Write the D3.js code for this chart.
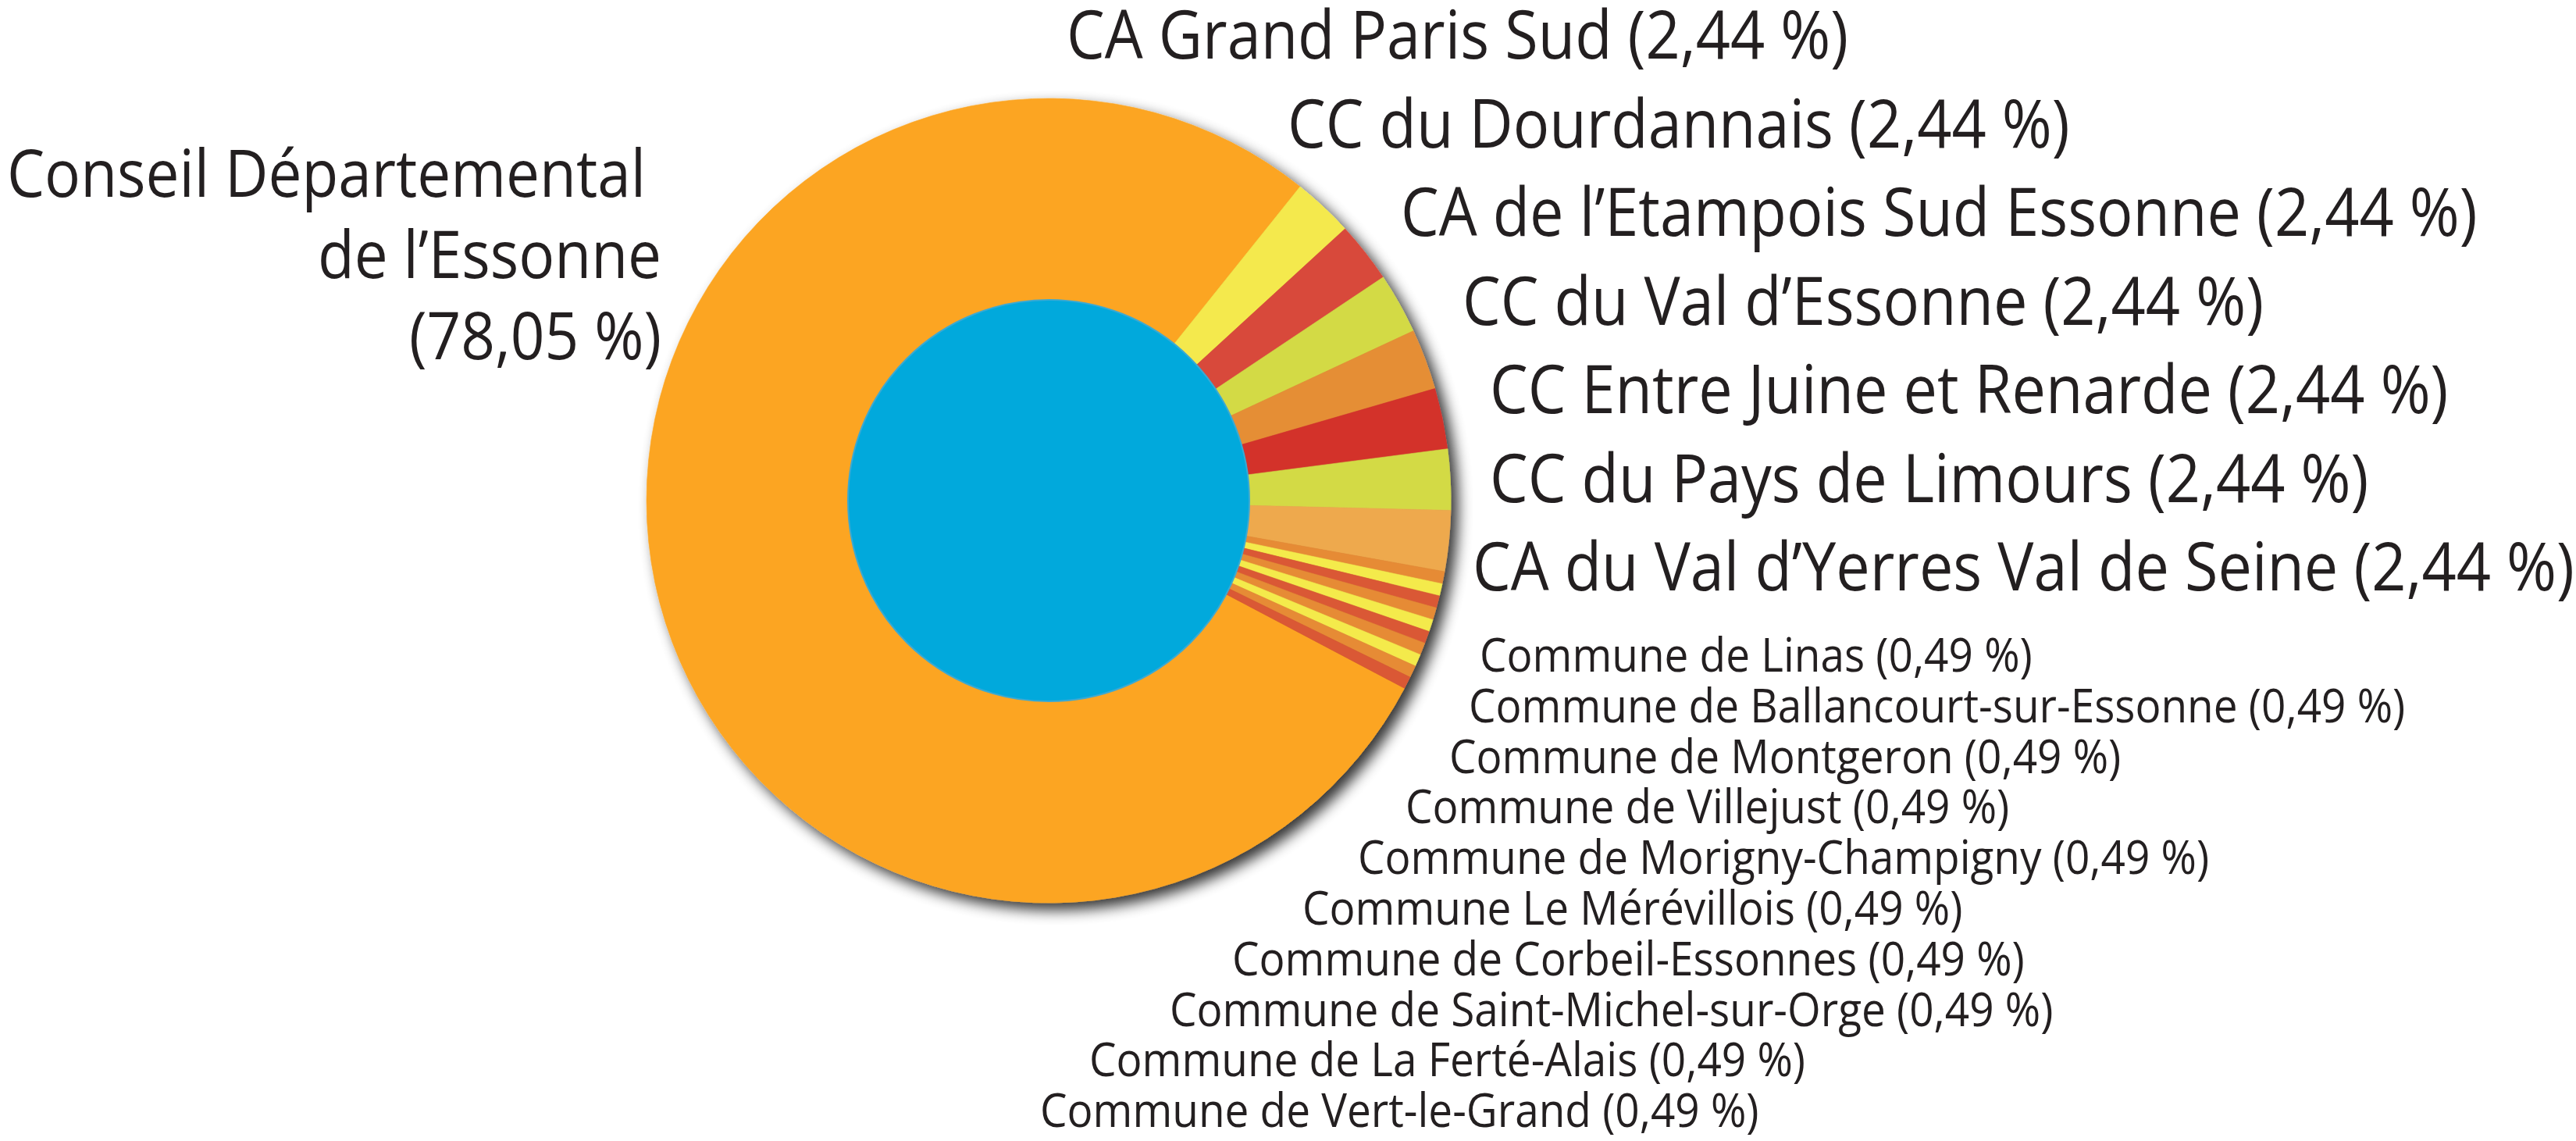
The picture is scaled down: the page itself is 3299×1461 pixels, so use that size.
<!DOCTYPE html>
<html>
<head>
<meta charset="utf-8">
<script src="https://cdn.jsdelivr.net/npm/d3@7"></script>
<style>
  html, body { margin: 0; padding: 0; background: #ffffff; }
  svg { display: block; }
  text { font-family: "Open Sans", "Noto Sans", sans-serif; fill: #231f20; }
</style>
</head>
<body>
<svg id="chart" width="3299" height="1461"></svg>
<script>
// ---------- DATA ----------
const categories = [
  "Conseil Départemental de l’Essonne",
  "CA Grand Paris Sud",
  "CC du Dourdannais",
  "CA de l’Etampois Sud Essonne",
  "CC du Val d’Essonne",
  "CC Entre Juine et Renarde",
  "CC du Pays de Limours",
  "CA du Val d’Yerres Val de Seine",
  "Commune de Linas",
  "Commune de Ballancourt-sur-Essonne",
  "Commune de Montgeron",
  "Commune de Villejust",
  "Commune de Morigny-Champigny",
  "Commune Le Mérévillois",
  "Commune de Corbeil-Essonnes",
  "Commune de Saint-Michel-sur-Orge",
  "Commune de La Ferté-Alais",
  "Commune de Vert-le-Grand"
];
const shares = [78.05, 2.44, 2.44, 2.44, 2.44, 2.44, 2.44, 2.44,
                0.49, 0.49, 0.49, 0.49, 0.49, 0.49, 0.49, 0.49, 0.49, 0.49];
// Left label broken into lines as in the original
const mainLabelLines = ["Conseil Départemental", "de l’Essonne"];

// ---------- STYLE ----------
const sliceColors = [
  "#fca522", "#f4e94d", "#d8493b", "#d3da45", "#e58e36", "#d3302c", "#d3da45", "#eea94d",
  "#e68b35", "#f4ea4c", "#da5934", "#e68b35", "#f4ea4c", "#da5934", "#e68b35", "#f4ea4c",
  "#e68b35", "#da5934"
];
const centerColor = "#01a9dc";

// ---------- LAYOUT ----------
const W = 3299, H = 1461;
const cx = 1343, cy = 641, R = 515, rCenter = 257;
const startDeg = 117.8;
const condense = 0.90;
const bigFont = 86, smallFont = 61, mainFont = 85;
// label anchors (left edge x) for right-hand labels, rows top→bottom
const bigRowX = [1366, 1649, 1794, 1873, 1908, 1908, 1886];
const bigRowY0 = 75, bigRowStep = 113.5;
const smallRowX = [1895, 1881, 1856, 1800, 1739, 1668, 1578, 1498, 1395, 1332];
const smallRowY0 = 860, smallRowStep = 64.8;

const locale = d3.formatLocale({decimal: ",", thousands: " ", grouping: [3], currency: ["", " €"]});
const fmt = locale.format(".2f");
const pctText = v => "(" + fmt(v) + " %)";

const svg = d3.select("#chart");

// shadow filter
const defs = svg.append("defs");
const f = defs.append("filter").attr("id", "shadow")
  .attr("x", "-10%").attr("y", "-10%").attr("width", "125%").attr("height", "125%");
f.append("feGaussianBlur").attr("in", "SourceAlpha").attr("stdDeviation", 9).attr("result", "b");
f.append("feOffset").attr("in", "b").attr("dx", 9).attr("dy", 9).attr("result", "o");
const ct = f.append("feComponentTransfer").attr("in", "o").attr("result", "s");
ct.append("feFuncA").attr("type", "linear").attr("slope", 0.8);
const m = f.append("feMerge");
m.append("feMergeNode").attr("in", "s");
m.append("feMergeNode").attr("in", "SourceGraphic");

const pie = d3.pie().sort(null).value(d => d)
  .startAngle(startDeg * Math.PI / 180)
  .endAngle(startDeg * Math.PI / 180 + 2 * Math.PI);
const arcs = pie(shares);
const arc = d3.arc().innerRadius(0).outerRadius(R);

const g = svg.append("g").attr("transform", `translate(${cx},${cy})`);
const pieG = g.append("g").attr("filter", "url(#shadow)");
pieG.selectAll("path.slice").data(arcs).join("path")
  .attr("class", "slice")
  .attr("d", arc)
  .attr("fill", (d, i) => sliceColors[i])
  .attr("stroke", (d, i) => sliceColors[i])
  .attr("stroke-width", 0.6);

g.append("circle").attr("r", rCenter)
  .attr("fill", centerColor)
  .attr("stroke", "#3aa9d3").attr("stroke-width", 2);

// ---------- LABELS ----------
function addText(x, y, str, size, anchor) {
  svg.append("text")
    .attr("transform", `translate(${x},${y}) scale(${condense},1)`)
    .attr("text-anchor", anchor || "start")
    .attr("font-size", size)
    .text(str);
}

// main (left) label, right aligned
const mainLines = [mainLabelLines[0], mainLabelLines[1], pctText(shares[0])];
const mainRight = [827, 847, 847];
const mainY = [252, 356, 460];
mainLines.forEach((s, i) => addText(mainRight[i], mainY[i], s, mainFont, "end"));

// 2,44 % labels
for (let i = 1; i <= 7; i++) {
  const r = i - 1;
  addText(bigRowX[r], bigRowY0 + r * bigRowStep, categories[i] + " " + pctText(shares[i]), bigFont);
}
// 0,49 % labels
for (let i = 8; i < categories.length; i++) {
  const r = i - 8;
  addText(smallRowX[r], smallRowY0 + r * smallRowStep, categories[i] + " " + pctText(shares[i]), smallFont);
}
</script>
</body>
</html>
